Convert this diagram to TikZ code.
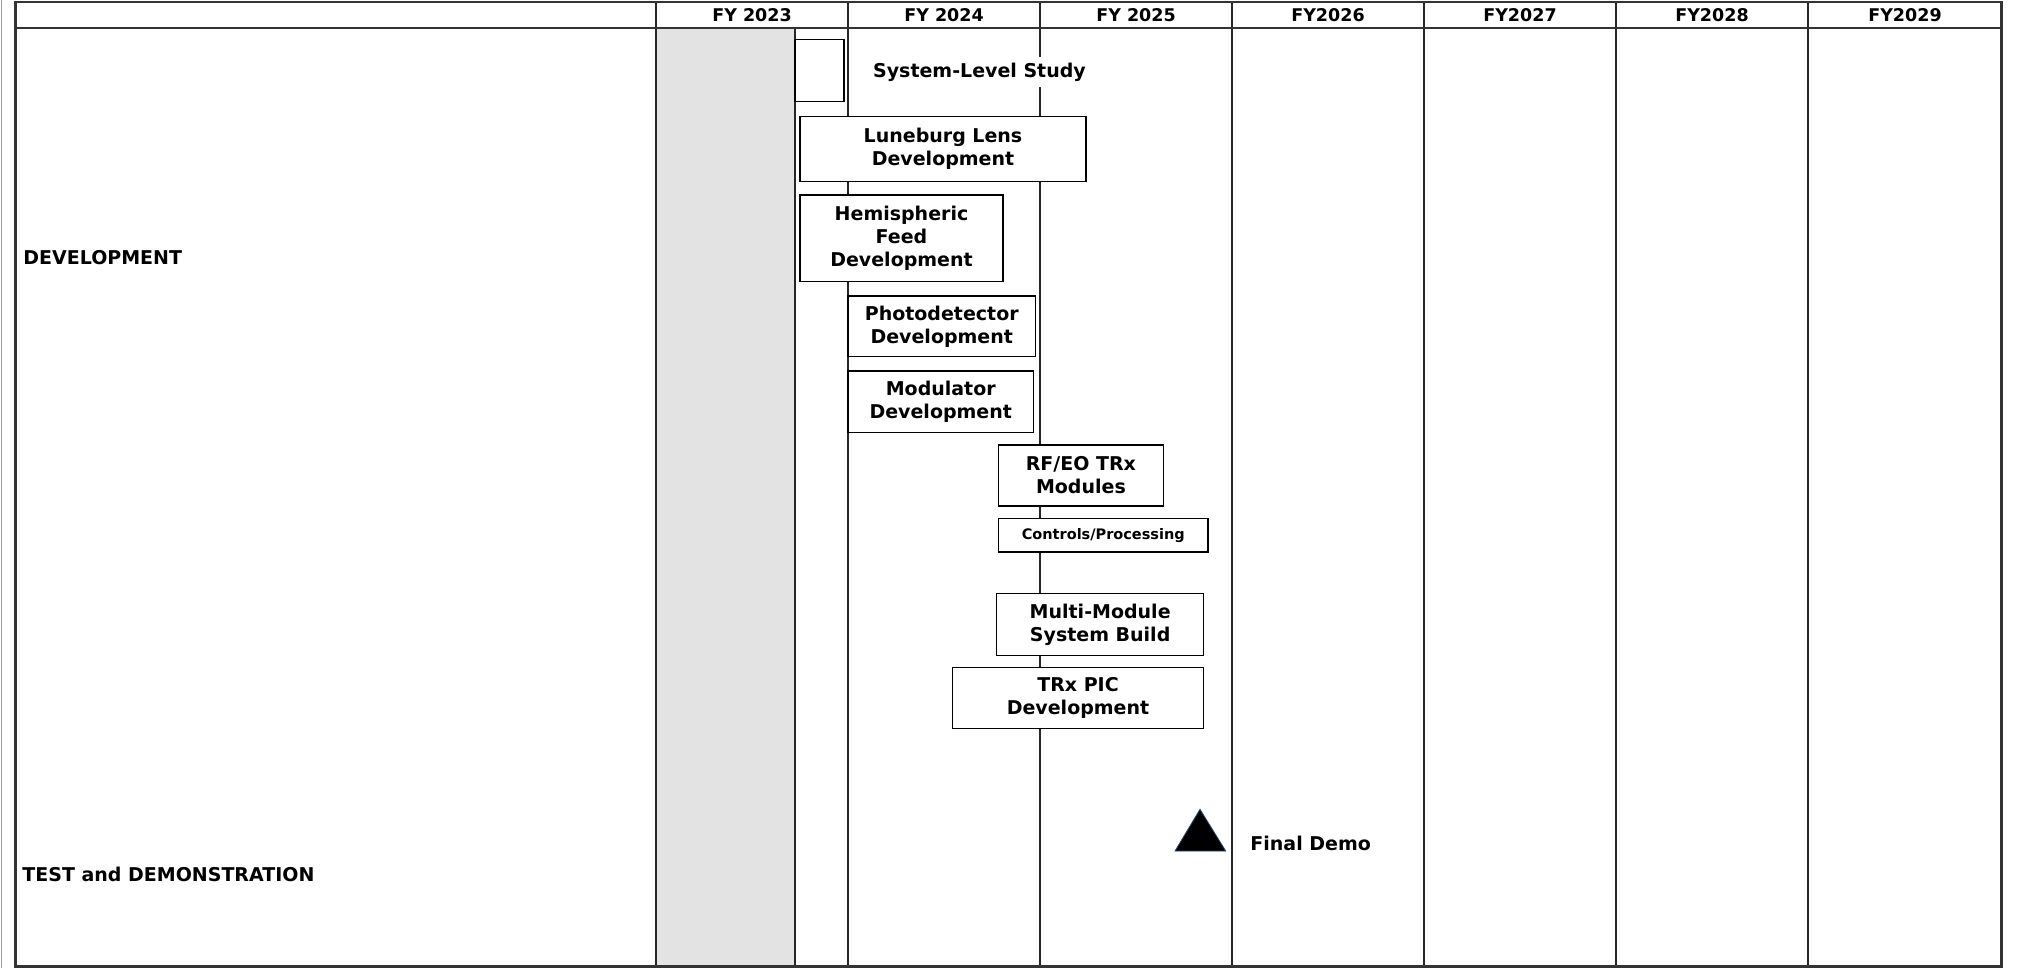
\documentclass[tikz,border=0pt]{standalone}
\usepackage{fontspec}
\setmainfont{DejaVu Sans}
\definecolor{pastgray}{HTML}{E3E3E3}
\definecolor{edgegray}{HTML}{9A9A9A}
\definecolor{tripedge}{HTML}{2A4A70}
\begin{document}
\begin{tikzpicture}[x=0.5pt,y=-0.5pt,
  gridline/.style={line width=0.85pt,black!85},
  frameline/.style={line width=1.3pt,black!80},
  task/.style={draw=black,line width=0.75pt,fill=white,align=center,inner sep=0pt,
    font=\bfseries\fontsize{9.5}{11.5}\selectfont},
  smalltask/.style={task,font=\bfseries\fontsize{7.25}{9}\selectfont},
  hdr/.style={font=\bfseries\fontsize{8.75}{10}\selectfont,inner sep=0pt},
  lbl/.style={font=\bfseries\fontsize{9.5}{11.5}\selectfont,anchor=west,inner sep=0pt}]

\useasboundingbox (0,0) rectangle (2017,968);
\fill[white] (0,0) rectangle (2017,968);

% shaded past period
\fill[pastgray] (656,28) rectangle (795,966.5);

% outer thin gray edge
\draw[line width=0.75pt,edgegray] (1.7,0) -- (1.7,968);

% grid
\foreach \gx in {656,848,1040,1232,1424,1616,1808}
  \draw[gridline] (\gx,2) -- (\gx,966.5);
\draw[gridline] (795,28) -- (795,966.5);
\draw[frameline] (15.5,28) -- (2001.5,28);
\draw[frameline] (15.5,2) rectangle (2001.5,966.5);

% headers
\node[hdr] (h23) at (752,15) {FY 2023};
\node[hdr] (h24) at (944,15) {FY 2024};
\node[hdr] (h25) at (1136,15) {FY 2025};
\node[hdr] (h26) at (1328,15) {FY2026};
\node[hdr] (h27) at (1520,15) {FY2027};
\node[hdr] (h28) at (1712,15) {FY2028};
\node[hdr] (h29) at (1905,15) {FY2029};

% row labels
\node[lbl] (dev) at (23,257.5) {DEVELOPMENT};
\node[lbl] (test) at (22,874) {TEST and DEMONSTRATION};

% tasks
\node[task,minimum width=24.5pt,minimum height=31.1pt] (sls) at (819.5,70.6) {};
\node[fill=white,inner xsep=2pt,inner ysep=0pt,minimum height=15pt,
  font=\bfseries\fontsize{9.5}{11.5}\selectfont] (study) at (979.5,72) {System-Level Study};
\node[task,minimum width=143pt,minimum height=32.3pt] (lens) at (943,149)
  {Luneburg Lens\\Development};
\node[task,minimum width=101.5pt,minimum height=43.35pt] (feed) at (901.5,238.35)
  {Hemispheric\\Feed\\Development};
\node[task,minimum width=93.75pt,minimum height=30.35pt] (photo) at (941.75,326.35)
  {Photodetector\\Development};
\node[task,minimum width=92.75pt,minimum height=30.65pt] (modu) at (940.75,401.65)
  {Modulator\\Development};
\node[task,minimum width=82.4pt,minimum height=30.5pt] (rfeo) at (1080.9,475.5)
  {RF/EO TRx\\Modules};
\node[smalltask,minimum width=104.75pt,minimum height=16.85pt] (ctrl) at (1103.25,535.15)
  {Controls/Processing};
\node[task,minimum width=103.55pt,minimum height=31pt] (multi) at (1100.15,624.7)
  {Multi-Module\\System Build};
\node[task,minimum width=125.7pt,minimum height=30.7pt] (pic) at (1078,698)
  {TRx PIC\\Development};

% milestone
\filldraw[fill=black,draw=tripedge,line width=0.4pt] (1200,809.3) -- (1225.7,851) -- (1175,851) -- cycle;
\node[lbl] (demo) at (1250,843) {Final Demo};
\end{tikzpicture}
\end{document}
